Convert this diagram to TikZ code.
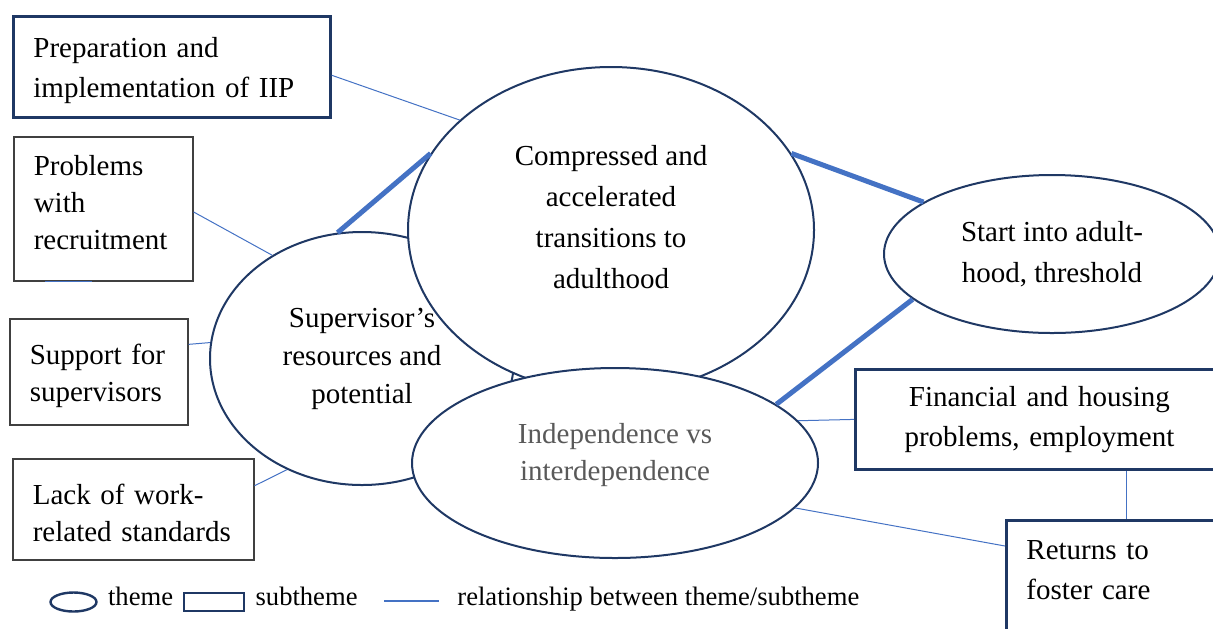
\documentclass[tikz,border=0pt]{standalone}
\usepackage{fontspec}
\setmainfont{Liberation Serif}
\usetikzlibrary{shapes.geometric,positioning}

\definecolor{navy}{HTML}{1F3864}
\definecolor{relblue}{HTML}{4472C4}
\definecolor{boxgray}{HTML}{404040}
\definecolor{textgray}{HTML}{595959}

\tikzset{
  theme/.style={ellipse, draw=navy, line width=1pt, fill=white, inner sep=0pt,
    align=center, font=\fontsize{14.5}{20.5}\selectfont},
  subtheme/.style={rectangle, draw=navy, line width=1.4pt, fill=white,
    anchor=north west, inner xsep=10pt, align=left,
    font=\fontsize{14.5}{20}\selectfont},
  subthin/.style={subtheme, draw=boxgray, line width=0.8pt,
    font=\fontsize{14.5}{18.5}\selectfont},
  strong/.style={draw=relblue, line width=2.5pt},
  rel/.style={draw=relblue, line width=0.5pt},
  lgtheme/.style={ellipse, draw=navy, line width=1.2pt, minimum width=23pt,
    minimum height=9.5pt, inner sep=0pt},
  lgsubtheme/.style={rectangle, draw=navy, line width=1.2pt, minimum width=30pt,
    minimum height=9pt, inner sep=0pt},
  lgtext/.style={inner sep=0pt, font=\fontsize{13.3}{16}\selectfont, yshift=3pt},
}

\begin{document}
\begin{tikzpicture}[x=0.5pt, y=-0.5pt]
  \useasboundingbox (0,0) rectangle (1213,628);

  % Themes
  \node[theme, minimum width=152pt, minimum height=126.5pt,
    font=\fontsize{14.5}{19}\selectfont] (sup) at (362,358.5)
    {Supervisor’s\\resources and\\potential};
  \node[theme, minimum width=203pt, minimum height=163pt, text depth=13.5pt]
    (comp) at (611,230) {Compressed and\\accelerated\\transitions to\\adulthood};
  \node[theme, minimum width=203pt, minimum height=95pt, text depth=11pt,
    text=textgray, font=\fontsize{14.5}{18.5}\selectfont] (indep) at (615,463)
    {Independence vs\\interdependence};
  \node[theme, minimum width=168pt, minimum height=79pt] (start) at (1052,254)
    {Start into adult-\\hood, threshold};

  % Subthemes
  \node[subtheme, text width=138.5pt, minimum height=50.5pt, text height=13.4pt] (prep) at (12,15)
    {Preparation and\\implementation of IIP};
  \node[subthin, text width=69.5pt, minimum height=72pt, text depth=43pt] (probl) at (13,136)
    {Problems\\with\\recruitment};
  \node[subthin, text width=69pt, minimum height=53pt, text height=13.9pt] (supp) at (9,318)
    {Support for\\supervisors};
  \node[subthin, text width=100.5pt, minimum height=50.5pt, text height=13.9pt] (lack) at (12,458)
    {Lack of work-\\related standards};
  \node[subtheme, text width=164pt, minimum height=50pt, align=center] (fin) at (854,368)
    {Financial and housing\\problems, employment};
  \node[subtheme, text width=100pt, inner ysep=10pt, text depth=60pt] (ret) at (1005,519)
    {Returns to\\foster care};

  % Relationships
  \draw[strong] (sup.101) -- (comp.157);
  \draw[strong] (comp.23) -- (start.158);
  \draw[strong] (start.198) -- (indep.20);
  \draw[rel] (prep.-3) -- (comp.144);
  \draw[rel] (probl.-2) -- (sup.131);
  \draw[rel] ([xshift=16pt]probl.south west) -- ([xshift=39.5pt]probl.south west);
  \draw[rel] (supp.17) -- (sup.174);
  \draw[rel] (lack.11) -- (sup.236);
  \draw[rel] (fin.west) -- (indep.13);
  \draw[rel] (ret.north |- fin.south) -- (ret.north);
  \draw[rel] (indep.-14) -- ([yshift=-13.5pt]ret.north west);

  % Legend
  \node[lgtheme] (lgth) at (73.5,602) {};
  \node[lgtext, right=5pt of lgth] (lgthtx) {theme};
  \node[lgsubtheme] (lgsub) at (214,602) {};
  \node[lgtext, right=5pt of lgsub] (lgsubtx) {subtheme};
  \coordinate (lgla) at (384,601);
  \coordinate (lglb) at (439,601);
  \draw[rel, line width=0.8pt] (lgla) -- (lglb);
  \node[lgtext, right=9pt of lglb, yshift=-2pt] (lgreltx)
    {relationship between theme/subtheme};
\end{tikzpicture}
\end{document}
